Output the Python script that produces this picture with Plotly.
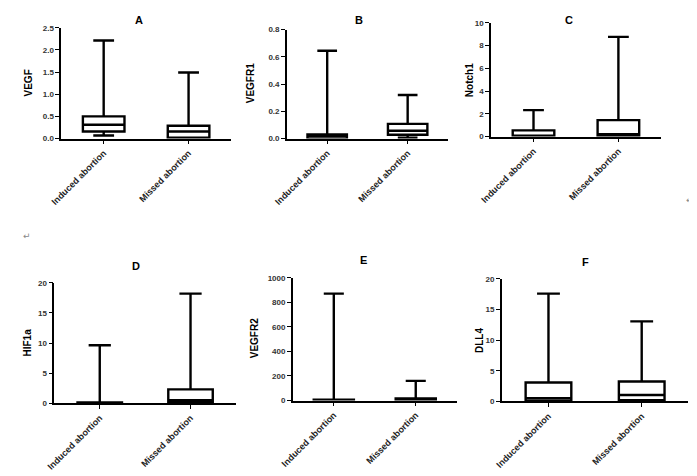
import plotly.graph_objects as go

categories = ["Induced abortion", "Missed abortion"]
panel_letters = ["A", "B", "C", "D", "E", "F"]
gene_names = ["VEGF", "VEGFR1", "Notch1", "HIF1a", "VEGFR2", "DLL4"]

# box statistics per panel: [Induced, Missed]
vegf_lower = [0.07, 0.0]
vegf_q1 = [0.16, 0.02]
vegf_median = [0.31, 0.16]
vegf_q3 = [0.50, 0.29]
vegf_upper = [2.21, 1.49]

vegfr1_lower = [0.0, 0.006]
vegfr1_q1 = [0.0, 0.028]
vegfr1_median = [0.02, 0.057]
vegfr1_q3 = [0.03, 0.108]
vegfr1_upper = [0.645, 0.32]

notch1_lower = [0.0, 0.0]
notch1_q1 = [0.0, 0.05]
notch1_median = [0.05, 0.2]
notch1_q3 = [0.55, 1.45]
notch1_upper = [2.33, 8.76]

hif1a_lower = [0.0, 0.0]
hif1a_q1 = [0.0, 0.12]
hif1a_median = [0.05, 0.54]
hif1a_q3 = [0.15, 2.34]
hif1a_upper = [9.65, 18.2]

vegfr2_lower = [0.0, 0.0]
vegfr2_q1 = [0.0, 2.0]
vegfr2_median = [2.0, 8.0]
vegfr2_q3 = [6.0, 16.0]
vegfr2_upper = [872, 160]

dll4_lower = [0.0, 0.0]
dll4_q1 = [0.12, 0.22]
dll4_median = [0.55, 1.07]
dll4_q3 = [3.1, 3.25]
dll4_upper = [17.6, 13.07]

stats = [
    (vegf_lower, vegf_q1, vegf_median, vegf_q3, vegf_upper),
    (vegfr1_lower, vegfr1_q1, vegfr1_median, vegfr1_q3, vegfr1_upper),
    (notch1_lower, notch1_q1, notch1_median, notch1_q3, notch1_upper),
    (hif1a_lower, hif1a_q1, hif1a_median, hif1a_q3, hif1a_upper),
    (vegfr2_lower, vegfr2_q1, vegfr2_median, vegfr2_q3, vegfr2_upper),
    (dll4_lower, dll4_q1, dll4_median, dll4_q3, dll4_upper),
]

y_ranges = [[0, 2.5], [0, 0.8], [0, 10], [0, 20], [0, 1000], [0, 20]]
y_dticks = [0.5, 0.2, 2, 5, 200, 5]
y_formats = [".1f", ".1f", "d", "d", "d", "d"]

W, H = 697, 476
OFF = 8  # page body margin


def px_x(px):
    return (px - OFF) / W


def px_y(py):
    return 1 - (py - OFF) / H


# plot area boxes in screen pixels: (left, right, top, bottom)
boxes_px = [
    (49, 222, 24, 137),
    (279, 443, 26, 137),
    (487, 660, 19, 135),
    (42, 227, 284, 407),
    (285, 452, 279, 404),
    (498, 688, 280, 405),
]
title_px = [(128, 8), (352, 8), (566, 8), (125, 267), (357, 261), (583, 263)]
ytitle_px = [(16, 80), (242, 81), (465, 77), (15, 345), (246, 341), (475, 343)]

FONT = "Liberation Sans, Arial, sans-serif"

fig = go.Figure()
annotations = []
layout = {}
for i in range(6):
    sfx = "" if i == 0 else str(i + 1)
    lo, q1, med, q3, up = stats[i]
    fig.add_trace(go.Box(
        x=categories, lowerfence=lo, q1=q1, median=med, q3=q3, upperfence=up,
        boxpoints=False, fillcolor="white",
        line=dict(color="black", width=2.4), whiskerwidth=0.5,
        xaxis="x" + sfx, yaxis="y" + sfx, showlegend=False,
    ))
    l, r, t, b = boxes_px[i]
    layout["xaxis" + sfx] = dict(
        domain=[px_x(l), px_x(r)], anchor="y" + sfx, type="category",
        range=[-0.5, 1.5], showline=True, linecolor="black", linewidth=1.6,
        ticks="outside", ticklen=4, tickwidth=1.2, tickcolor="black",
        tickangle=-45, showgrid=False, zeroline=False,
        tickfont=dict(family=FONT, size=9, color="#222", weight="bold"),
    )
    layout["yaxis" + sfx] = dict(
        domain=[px_y(b), px_y(t)], anchor="x" + sfx,
        range=y_ranges[i], dtick=y_dticks[i], tick0=0, tickformat=y_formats[i],
        showline=True, linecolor="black", linewidth=1.6,
        ticks="outside", ticklen=4, tickwidth=1.2, tickcolor="black",
        showgrid=False, zeroline=False,
        tickfont=dict(family=FONT, size=8, color="#333", weight="bold"),
    )
    tx, ty = title_px[i]
    top_row = ty < 20
    annotations.append(dict(
        text="<b>" + panel_letters[i] + "</b>", x=px_x(tx),
        y=1.0 if top_row else px_y(ty),
        xref="paper", yref="paper", showarrow=False,
        font=dict(family=FONT, size=11, color="black"),
        xanchor="center", yanchor="top" if top_row else "middle",
    ))
    yx, yy = ytitle_px[i]
    annotations.append(dict(
        text="<b>" + gene_names[i] + "</b>", x=px_x(yx), y=px_y(yy),
        xref="paper", yref="paper", showarrow=False, textangle=-90,
        font=dict(family=FONT, size=10, color="black"),
        xanchor="center", yanchor="middle",
    ))

for (px, py, xa) in [(1, 236, "left"), (690, 200, "center")]:
    annotations.append(dict(
        text="↵", x=px_x(px) if px > OFF else 0, y=px_y(py), xref="paper", yref="paper",
        showarrow=False, font=dict(family="DejaVu Sans", size=9, color="#888"),
        xanchor=xa, yanchor="middle",
    ))

fig.update_layout(
    width=W, height=H, margin=dict(l=0, r=0, t=0, b=0),
    paper_bgcolor="white", plot_bgcolor="white",
    boxmode="overlay", boxgap=0.3,
    annotations=annotations, **layout,
)
fig.write_html("out.html")
